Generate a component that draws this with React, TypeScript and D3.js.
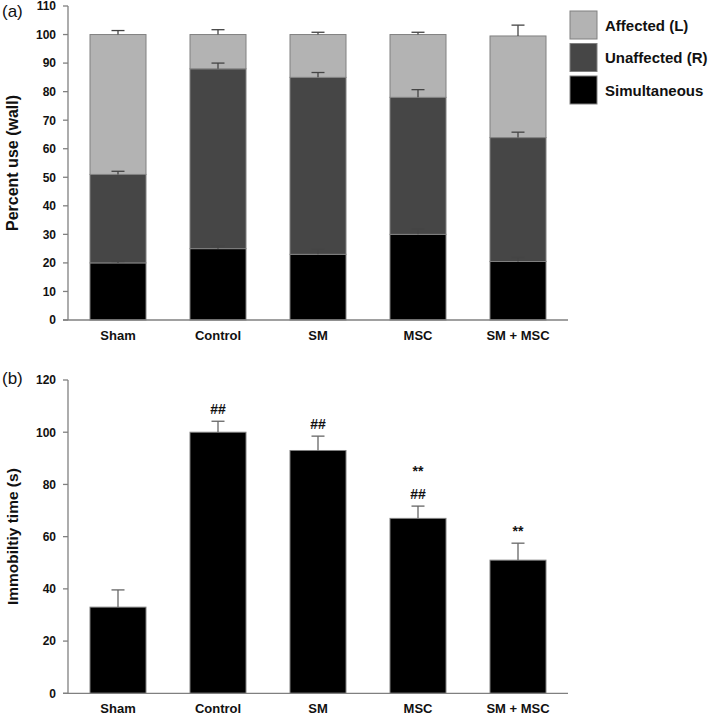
import React from "react";
import * as d3 from "d3";

const categories = ["Sham", "Control", "SM", "MSC", "SM + MSC"];
const seriesNames = ["Affected (L)", "Unaffected (R)", "Simultaneous"];
// Panel (a): cumulative tops
const simultaneous = [20, 25, 23, 30, 20.5];
const simultaneousErrTop = [20.5, 25.9, 24.8, 31.9, 21.9];
const unaffectedTop = [51, 88, 85, 78, 63.9];
const unaffectedErrTop = [52.1, 90, 86.7, 80.7, 65.8];
const affectedTop = [100, 100, 100, 100, 99.5];
const affectedErrTop = [101.4, 101.7, 100.8, 100.8, 103.3];
const ticksA = [0, 10, 20, 30, 40, 50, 60, 70, 80, 90, 100, 110];
// Panel (b)
const immobility = [33, 100, 93, 67, 51];
const immobilityErrTop = [39.6, 104.2, 98.5, 71.7, 57.5];
const annotations = [[], ["##"], ["##"], ["##", "**"], ["**"]];
const ticksB = [0, 20, 40, 60, 80, 100, 120];

const colors = { affected: "#b3b3b3", unaffected: "#464646", simult: "#000000" };
const FONT = "'Liberation Sans', Arial, sans-serif";
const AXIS = "#808080";

export default function App() {
  const x = d3.scaleBand<string>().domain(categories).range([68, 568]).paddingInner(0.44).paddingOuter(0.22);
  const yA = d3.scaleLinear().domain([0, 110]).range([320, 6]);
  const yB = d3.scaleLinear().domain([0, 120]).range([693.3, 380]);
  const bw = x.bandwidth();
  const capW = 13;

  const errBar = (cx: number, y1: number, y2: number, key: string, color = "#444") => (
    <g key={key} stroke={color} strokeWidth={1.3}>
      <line x1={cx} x2={cx} y1={y1} y2={y2} />
      <line x1={cx - capW / 2} x2={cx + capW / 2} y1={y2} y2={y2} />
    </g>
  );

  const stacks = categories.map((c, i) => [
    { key: "s", y0: 0, y1: simultaneous[i], fill: colors.simult, err: simultaneousErrTop[i] },
    { key: "u", y0: simultaneous[i], y1: unaffectedTop[i], fill: colors.unaffected, err: unaffectedErrTop[i] },
    { key: "a", y0: unaffectedTop[i], y1: affectedTop[i], fill: colors.affected, err: affectedErrTop[i] },
  ]);

  const legendFills = [colors.affected, colors.unaffected, colors.simult];

  return (
    <svg width={709} height={715} style={{ position: "absolute", left: 0, top: 0, background: "#fff" }} fontFamily={FONT}>
      {/* Panel (a) */}
      <text x={2} y={17} fontSize={17} fill="#111">(a)</text>
      <text transform={`translate(18,${yA(55)}) rotate(-90)`} textAnchor="middle" fontSize={16} fontWeight="bold" fill="#111">Percent use (wall)</text>
      {categories.map((c, i) => (
        <g key={c}>
          {stacks[i].map((s) => (
            <rect key={s.key} x={x(c)!} width={bw} y={yA(s.y1)} height={yA(s.y0) - yA(s.y1)} fill={s.fill} stroke={AXIS} strokeWidth={1} />
          ))}
          {stacks[i].map((s) => errBar(x(c)! + bw / 2, yA(s.y1), yA(s.err), "e" + s.key))}
        </g>
      ))}
      <line x1={68} x2={68} y1={yA(110)} y2={yA(0)} stroke={AXIS} strokeWidth={1.3} />
      <line x1={63} x2={568} y1={yA(0)} y2={yA(0)} stroke={AXIS} strokeWidth={1.3} />
      {ticksA.map((t) => (
        <g key={t}>
          <line x1={63} x2={68} y1={yA(t)} y2={yA(t)} stroke={AXIS} strokeWidth={1.3} />
          <text x={56} y={yA(t)} dy="0.36em" textAnchor="end" fontSize={12} fontWeight="bold" fill="#111">{t}</text>
        </g>
      ))}
      {categories.map((c) => (
        <text key={c} x={x(c)! + bw / 2} y={340} textAnchor="middle" fontSize={13} fontWeight="bold" fill="#111">{c}</text>
      ))}
      {seriesNames.map((n, i) => (
        <g key={n}>
          <rect x={570} y={11 + i * 32.5} width={27} height={28} fill={legendFills[i]} stroke={AXIS} strokeWidth={1} />
          <text x={605} y={25.5 + i * 32.5} dy="0.36em" fontSize={15} fontWeight="bold" fill="#111">{n}</text>
        </g>
      ))}

      {/* Panel (b) */}
      <text x={2} y={384} fontSize={17} fill="#111">(b)</text>
      <text transform={`translate(18,${yB(60)}) rotate(-90)`} textAnchor="middle" fontSize={15.5} fontWeight="bold" fill="#111">Immobiltiy time (s)</text>
      {categories.map((c, i) => (
        <g key={c}>
          <rect x={x(c)!} width={bw} y={yB(immobility[i])} height={yB(0) - yB(immobility[i])} fill="#000" stroke={AXIS} strokeWidth={1} />
          {errBar(x(c)! + bw / 2, yB(immobility[i]), yB(immobilityErrTop[i]), "eb", "#666")}
          {annotations[i].map((a, k) => (
            <text key={k} x={x(c)! + bw / 2} y={yB(immobilityErrTop[i]) - 12 - k * 23} dy="0.36em" textAnchor="middle" fontSize={14} fontWeight="bold" fill="#111">{a}</text>
          ))}
        </g>
      ))}
      <line x1={68} x2={68} y1={yB(120)} y2={yB(0)} stroke={AXIS} strokeWidth={1.3} />
      <line x1={63} x2={568} y1={yB(0)} y2={yB(0)} stroke={AXIS} strokeWidth={1.3} />
      {ticksB.map((t) => (
        <g key={t}>
          <line x1={63} x2={68} y1={yB(t)} y2={yB(t)} stroke={AXIS} strokeWidth={1.3} />
          <text x={56} y={yB(t)} dy="0.36em" textAnchor="end" fontSize={12} fontWeight="bold" fill="#111">{t}</text>
        </g>
      ))}
      {categories.map((c) => (
        <text key={c} x={x(c)! + bw / 2} y={713} textAnchor="middle" fontSize={13} fontWeight="bold" fill="#111">{c}</text>
      ))}
    </svg>
  );
}
